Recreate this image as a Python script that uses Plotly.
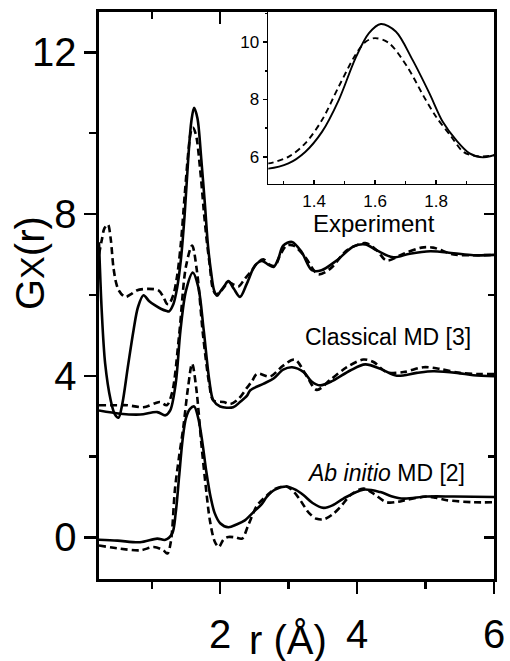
import plotly.graph_objects as go

# ---------------- data ----------------
# Experiment pair (top)
exp_solid_r = [0.23, 0.27, 0.32, 0.40, 0.46, 0.515, 0.57, 0.65, 0.734, 0.80, 0.88, 0.96, 1.05, 1.14, 1.22,
               1.25, 1.316, 1.371, 1.426, 1.481, 1.536, 1.58, 1.619, 1.668, 1.723, 1.778, 1.822, 1.866, 1.91,
               1.954, 1.993, 2.06, 2.12, 2.20, 2.29, 2.39, 2.51, 2.61, 2.70, 2.78, 2.85, 2.92, 3.05, 3.19,
               3.34, 3.48, 3.70, 3.95, 4.12, 4.29, 4.53, 4.77, 5.07, 5.41, 5.70, 6.0]
exp_solid_g = [7.3, 5.6, 4.3, 3.4, 3.05, 2.96, 3.3, 4.2, 5.12, 5.7, 5.99, 5.85, 5.74, 5.65, 5.6,
               5.59, 5.77, 6.17, 6.87, 7.98, 9.44, 10.31, 10.63, 10.37, 9.38, 8.22, 7.22, 6.58, 6.12,
               5.98, 6.06, 6.22, 6.34, 6.15, 5.95, 6.28, 6.73, 6.84, 6.75, 6.69, 6.9, 7.22, 7.31, 7.06,
               6.61, 6.61, 6.85, 7.2, 7.25, 7.1, 6.93, 7.02, 7.08, 7.03, 6.98, 6.99]
exp_dash_r = [0.23, 0.27, 0.31, 0.36, 0.40, 0.44, 0.48, 0.52, 0.61, 0.70, 0.78, 0.95, 1.10, 1.17, 1.22,
              1.25, 1.316, 1.371, 1.426, 1.481, 1.536, 1.57, 1.60, 1.645, 1.705, 1.76, 1.80, 1.85, 1.89,
              1.935, 1.993, 2.06, 2.12, 2.20, 2.27, 2.36, 2.46, 2.55, 2.63, 2.72, 2.80, 2.88, 2.97, 3.07,
              3.24, 3.43, 3.61, 3.85, 4.12, 4.29, 4.43, 4.68, 4.94, 5.11, 5.41, 5.70, 6.0]
exp_dash_g = [7.0, 7.35, 7.65, 7.74, 7.4, 6.69, 6.3, 6.11, 5.95, 6.02, 6.11, 6.15, 6.11, 5.95, 5.78,
              5.77, 6.0, 6.47, 7.28, 8.45, 9.56, 10.02, 10.14, 9.97, 9.15, 8.1, 7.4, 6.7, 6.17,
              6.02, 6.06, 6.2, 6.32, 6.25, 6.21, 6.4, 6.6, 6.8, 6.88, 6.75, 6.72, 7.0, 7.22, 7.22,
              6.94, 6.51, 6.65, 7.1, 7.28, 7.1, 6.85, 7.02, 7.17, 7.17, 7.0, 6.98, 6.99]

# Classical MD pair (middle)
cmd_solid_r = [0.23, 0.54, 0.83, 1.08, 1.20, 1.27, 1.35, 1.42, 1.50, 1.60, 1.68, 1.76, 1.84, 1.90, 2.0,
               2.19, 2.29, 2.39, 2.44, 2.63, 2.78, 2.92, 3.05, 3.22, 3.34, 3.46, 3.65, 3.90, 4.12, 4.34,
               4.58, 4.87, 5.11, 5.46, 5.70, 6.0]
cmd_solid_g = [3.14, 3.06, 3.04, 3.10, 3.02, 3.14, 3.8, 5.12, 6.1, 6.55, 6.2, 5.12, 3.9, 3.39, 3.24,
               3.22, 3.35, 3.5, 3.64, 3.80, 3.93, 4.15, 4.21, 4.09, 3.85, 3.76, 3.88, 4.13, 4.28, 4.17,
               4.0, 4.07, 4.11, 4.07, 4.01, 3.99]
cmd_dash_r = [0.23, 0.50, 0.64, 0.88, 1.05, 1.12, 1.22, 1.30, 1.40, 1.50, 1.59, 1.66, 1.75, 1.84, 1.90,
              2.05, 2.15, 2.27, 2.39, 2.46, 2.54, 2.73, 2.92, 3.09, 3.27, 3.41, 3.61, 3.85, 4.09, 4.24,
              4.43, 4.68, 4.97, 5.21, 5.50, 5.80, 6.0]
cmd_dash_g = [3.27, 3.27, 3.27, 3.22, 3.32, 3.35, 3.27, 3.6, 5.0, 6.7, 7.22, 6.6, 5.0, 3.8, 3.39,
              3.35, 3.3, 3.43, 3.7, 3.85, 4.05, 3.98, 4.25, 4.40, 3.97, 3.65, 3.90, 4.21, 4.40, 4.34,
              4.09, 4.09, 4.21, 4.17, 4.07, 4.04, 4.04]

# Ab initio MD pair (bottom)
aimd_solid_r = [0.23, 0.50, 0.83, 1.08, 1.20, 1.30, 1.35, 1.40, 1.45, 1.50, 1.56, 1.62, 1.68, 1.74, 1.80,
                1.86, 1.92, 2.0, 2.12, 2.24, 2.36, 2.49, 2.61, 2.68, 2.80, 2.97, 3.10, 3.22, 3.35, 3.51,
                3.65, 3.80, 4.09, 4.34, 4.50, 4.68, 5.02, 5.41, 6.0]
aimd_solid_g = [-0.06, -0.08, -0.12, -0.03, -0.06, 0.1, 0.6, 1.5, 2.4, 2.95, 3.18, 3.24, 2.95, 2.35, 1.6,
                1.0, 0.6, 0.35, 0.25, 0.32, 0.42, 0.63, 0.83, 1.0, 1.18, 1.26, 1.18, 1.04, 0.85, 0.73,
                0.8, 0.96, 1.18, 1.12, 1.02, 0.96, 1.01, 1.01, 1.0]
aimd_dash_r = [0.23, 0.54, 0.83, 1.03, 1.17, 1.23, 1.28, 1.34, 1.40, 1.46, 1.53, 1.59, 1.65, 1.73, 1.80,
               1.85, 1.92, 1.98, 2.05, 2.12, 2.22, 2.32, 2.41, 2.54, 2.68, 2.80, 2.97, 3.08, 3.17, 3.30,
               3.41, 3.52, 3.65, 3.78, 3.90, 4.09, 4.24, 4.43, 4.60, 4.73, 5.02, 5.15, 5.31, 5.70, 6.0]
aimd_dash_g = [-0.2, -0.28, -0.32, -0.24, -0.32, -0.40, -0.1, 1.2, 2.0, 2.7, 3.7, 4.30, 3.7, 2.23, 1.1,
               0.42, -0.1, -0.24, -0.05, 0.01, 0.0, -0.03, 0.3, 0.79, 1.03, 1.2, 1.26, 1.12, 0.92, 0.6,
               0.46, 0.45, 0.58, 0.8, 1.04, 1.21, 1.08, 0.87, 0.88, 0.93, 1.01, 0.98, 0.92, 0.87, 0.87]

# axis settings
X_RANGE = [0.23, 6.0]
Y_RANGE = [-1.03, 13.0]
INSET_X_RANGE = [1.25, 1.99]
INSET_Y_RANGE = [5.07, 11.05]
label_classical = "Classical MD [3]"
label_abinitio = "<i>Ab initio</i> MD [2]"
label_inset = "Experiment"

FONT = "Liberation Sans, Arial, Helvetica, sans-serif"
W, H = 510, 661
ML, MR, MT, MB = 99, 16, 12, 82
PW, PH = W - ML - MR, H - MT - MB


def px_x(px):
    return (px - ML) / PW


def px_y(py):
    return (H - MB - py) / PH


fig = go.Figure()

pairs = [(exp_solid_r, exp_solid_g, exp_dash_r, exp_dash_g),
         (cmd_solid_r, cmd_solid_g, cmd_dash_r, cmd_dash_g),
         (aimd_solid_r, aimd_solid_g, aimd_dash_r, aimd_dash_g)]
for sr, sg, dr, dg in pairs:
    fig.add_trace(go.Scatter(x=dr, y=dg, mode="lines",
                             line=dict(color="black", width=2.6, dash="7px,4px", shape="spline", smoothing=0.9),
                             showlegend=False, hoverinfo="skip"))
    fig.add_trace(go.Scatter(x=sr, y=sg, mode="lines",
                             line=dict(color="black", width=2.6, shape="spline", smoothing=0.9),
                             showlegend=False, hoverinfo="skip"))

# inset: the experiment pair zoomed on the first peak
fig.add_trace(go.Scatter(x=exp_dash_r, y=exp_dash_g, mode="lines", xaxis="x4", yaxis="y4",
                         line=dict(color="black", width=1.9, dash="6px,4px", shape="spline", smoothing=0.9),
                         showlegend=False, hoverinfo="skip"))
fig.add_trace(go.Scatter(x=exp_solid_r, y=exp_solid_g, mode="lines", xaxis="x4", yaxis="y4",
                         line=dict(color="black", width=1.9, shape="spline", smoothing=0.9),
                         showlegend=False, hoverinfo="skip"))
# carrier for the top / right tick axes
fig.add_trace(go.Scatter(x=[None], y=[None], xaxis="x2", yaxis="y2", mode="lines",
                         showlegend=False, hoverinfo="skip"))

axis_common = dict(showgrid=False, zeroline=False, linecolor="black", color="black",
                   automargin=False, tickcolor="black")

fig.update_layout(
    template="none",
    width=W, height=H,
    margin=dict(l=ML, r=MR, t=MT, b=MB, pad=0, autoexpand=False),
    paper_bgcolor="white", plot_bgcolor="white",
    font=dict(family=FONT, color="black"),
    showlegend=False,
    xaxis=dict(**axis_common, range=X_RANGE, showline=True, linewidth=2.6,
               tick0=0, dtick=2, ticks="outside", ticklen=12, tickwidth=2.4,
               minor=dict(dtick=1, ticks="outside", ticklen=7, tickwidth=2.4, tickcolor="black"),
               tickfont=dict(size=40, family=FONT), ticklabelstandoff=6),
    yaxis=dict(**axis_common, range=Y_RANGE, showline=True, linewidth=2.6,
               tick0=0, dtick=4, ticks="outside", ticklen=12, tickwidth=2.4,
               minor=dict(dtick=2, ticks="outside", ticklen=7, tickwidth=2.4, tickcolor="black"),
               tickfont=dict(size=40, family=FONT)),
    xaxis2=dict(**axis_common, range=X_RANGE, overlaying="x", side="top", anchor="y2",
                showline=True, linewidth=2.6, showticklabels=False,
                tick0=0, dtick=2, ticks="inside", ticklen=12, tickwidth=2.4,
                minor=dict(dtick=1, ticks="inside", ticklen=7, tickwidth=2.4, tickcolor="black")),
    yaxis2=dict(**axis_common, range=Y_RANGE, overlaying="y", side="right", anchor="x2",
                showline=True, linewidth=2.6, showticklabels=False,
                tick0=0, dtick=4, ticks="inside", ticklen=10, tickwidth=2.4,
                minor=dict(dtick=2, ticks="inside", ticklen=6, tickwidth=2.4, tickcolor="black")),
    xaxis4=dict(**axis_common, range=INSET_X_RANGE, domain=[px_x(268.3), 1.0], anchor="y4",
                showline=True, mirror=True, linewidth=1.8,
                tick0=1.4, dtick=0.2, ticks="inside", ticklen=4, tickwidth=1.5, tickformat=".1f",
                minor=dict(dtick=0.1, ticks="inside", ticklen=3, tickwidth=1.5, tickcolor="black"),
                tickfont=dict(size=17, family=FONT), ticklabelstandoff=1),
    yaxis4=dict(**axis_common, range=INSET_Y_RANGE, domain=[px_y(183.5), 1.0], anchor="x4",
                showline=True, mirror=True, linewidth=1.8,
                tick0=6, dtick=2, ticks="outside", ticklen=4, tickwidth=1.5,
                minor=dict(dtick=1, ticks="outside", ticklen=2, tickwidth=1.5, tickcolor="black"),
                tickfont=dict(size=17, family=FONT)),
)

annotations = [
    dict(text="G<span style='font-size:34px'>X</span>(r)", x=px_x(30), y=px_y(263), xref="paper", yref="paper",
         textangle=-90, showarrow=False, font=dict(size=40, family=FONT), xanchor="center", yanchor="middle"),
    dict(text="r (Å)", x=px_x(287.5), y=px_y(640), xref="paper", yref="paper",
         showarrow=False, font=dict(size=40, family=FONT), xanchor="center", yanchor="middle"),
    dict(text=label_classical, x=px_x(473), y=px_y(336.7), xref="paper", yref="paper",
         showarrow=False, font=dict(size=23, family=FONT), xanchor="right", yanchor="middle"),
    dict(text=label_abinitio, x=px_x(466.7), y=px_y(473.3), xref="paper", yref="paper",
         showarrow=False, font=dict(size=23, family=FONT), xanchor="right", yanchor="middle"),
    dict(text=label_inset, x=px_x(373.5), y=px_y(223), xref="paper", yref="paper",
         showarrow=False, font=dict(size=24, family=FONT), xanchor="center", yanchor="middle"),
]
fig.update_layout(annotations=annotations)

fig.write_html("out.html", config={"displayModeBar": False, "staticPlot": True},
               post_script="document.body.style.margin='0';document.body.style.padding='0';"
                           "document.body.style.overflow='hidden';")
